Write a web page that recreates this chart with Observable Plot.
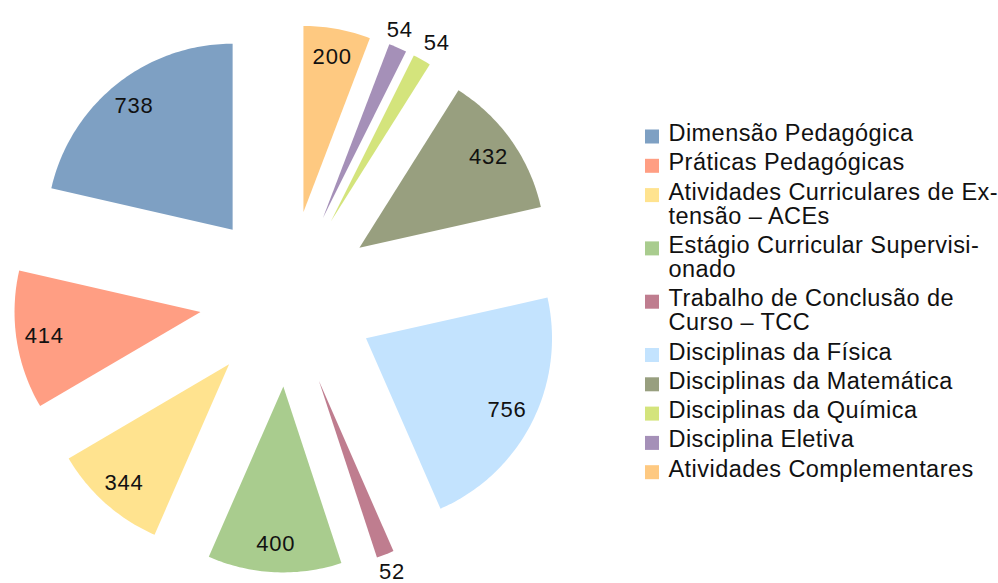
<!DOCTYPE html>
<html><head><meta charset="utf-8">
<script src="https://cdn.jsdelivr.net/npm/d3@7"></script>
<script src="https://cdn.jsdelivr.net/npm/@observablehq/plot@0.6"></script>
<style>body{margin:0;background:#fff} svg{display:block}</style>
</head><body><div id="chart"></div>
<script>
const categories = ["Dimensão Pedagógica","Práticas Pedagógicas","Atividades Curriculares de Extensão – ACEs","Estágio Curricular Supervisionado","Trabalho de Conclusão de Curso – TCC","Disciplinas da Física","Disciplinas da Matemática","Disciplinas da Química","Disciplina Eletiva","Atividades Complementares"];
const values = [738,414,344,400,52,756,432,54,54,200];
const colors = ["#7ea0c3","#ff9e83","#ffe38f","#a9cc8e","#bf7d8f","#c3e3fe","#989f7f","#d4e47c","#a590b8","#fec981"];
const legendLines = [["Dimensão Pedagógica"],["Práticas Pedagógicas"],["Atividades Curriculares de Ex-","tensão – ACEs"],["Estágio Curricular Supervisi-","onado"],["Trabalho de Conclusão de","Curso – TCC"],["Disciplinas da Física"],["Disciplinas da Matemática"],["Disciplinas da Química"],["Disciplina Eletiva"],["Atividades Complementares"]];

const W = 998, H = 583, CX = 287, CY = 298, R = 186, EXPLODE = 88;
const data = categories.map((c, i) => ({cat: c, value: values[i]}));
const arcs = d3.pie().sort(null).value(d => d.value).startAngle(0).endAngle(-2 * Math.PI)(data);

const slices = [], labels = [];
arcs.forEach(a => {
  const mid = (a.startAngle + a.endAngle) / 2;
  const ox = CX + EXPLODE * Math.sin(mid), oy = CY - EXPLODE * Math.cos(mid);
  slices.push({cat: a.data.cat, x: ox, y: oy});
  const n = Math.max(2, Math.ceil(Math.abs(a.endAngle - a.startAngle) / (Math.PI / 180)));
  for (let k = 0; k <= n; k++) {
    const t = a.startAngle + (a.endAngle - a.startAngle) * k / n;
    slices.push({cat: a.data.cat, x: ox + R * Math.sin(t), y: oy - R * Math.cos(t)});
  }
  const small = a.data.value / d3.sum(values) < 0.03;
  const lr = small ? R + 19 : R * 0.85;
  labels.push({text: String(a.data.value), small, x: ox + lr * Math.sin(mid), y: oy - lr * Math.cos(mid)});
});
// keep outside labels from crowding each other
const outside = labels.filter(d => d.small).sort((p, q) => p.x - q.x);
for (let i = 1; i < outside.length; i++) {
  const p = outside[i - 1], q = outside[i];
  const gap = q.x - p.x;
  if (gap < 37 && Math.abs(q.y - p.y) < 22) { const d = (37 - gap) / 2; p.x -= d; q.x += d; }
}

const legendText = [], legendBoxes = [];
let c = 133;
legendLines.forEach((lines, i) => {
  lines.forEach((t, j) => legendText.push({text: t, y: c + 24 * j}));
  legendBoxes.push({cat: categories[i], y1: c - 3.5, y2: c + 10.5});
  c += 29.3 + 24 * (lines.length - 1);
});

const chart = Plot.plot({
  width: W, height: H,
  margin: 0,
  x: {domain: [0, W], range: [0, W], axis: null},
  y: {domain: [0, H], range: [0, H], axis: null},
  color: {domain: categories, range: colors},
  style: {fontFamily: "Liberation Sans, Arial, sans-serif", background: "#fff"},
  marks: [
    Plot.line(slices, {x: "x", y: "y", z: "cat", fill: "cat", stroke: null}),
    Plot.text(labels, {x: "x", y: "y", text: "text", fontSize: 22, fill: "#111", className: "vlabel"}),
    Plot.rect(legendBoxes, {x1: 645, x2: 659, y1: "y1", y2: "y2", fill: "cat"}),
    Plot.text(legendText, {x: 668, y: "y", text: "text", textAnchor: "start", fontSize: 23.5, fill: "#111", className: "ltext"})
  ]
});
document.getElementById("chart").appendChild(chart);
const st = document.createElement("style");
st.textContent = ".ltext text{letter-spacing:0.45px} .vlabel text{letter-spacing:0.8px}";
document.head.appendChild(st);
</script></body></html>
